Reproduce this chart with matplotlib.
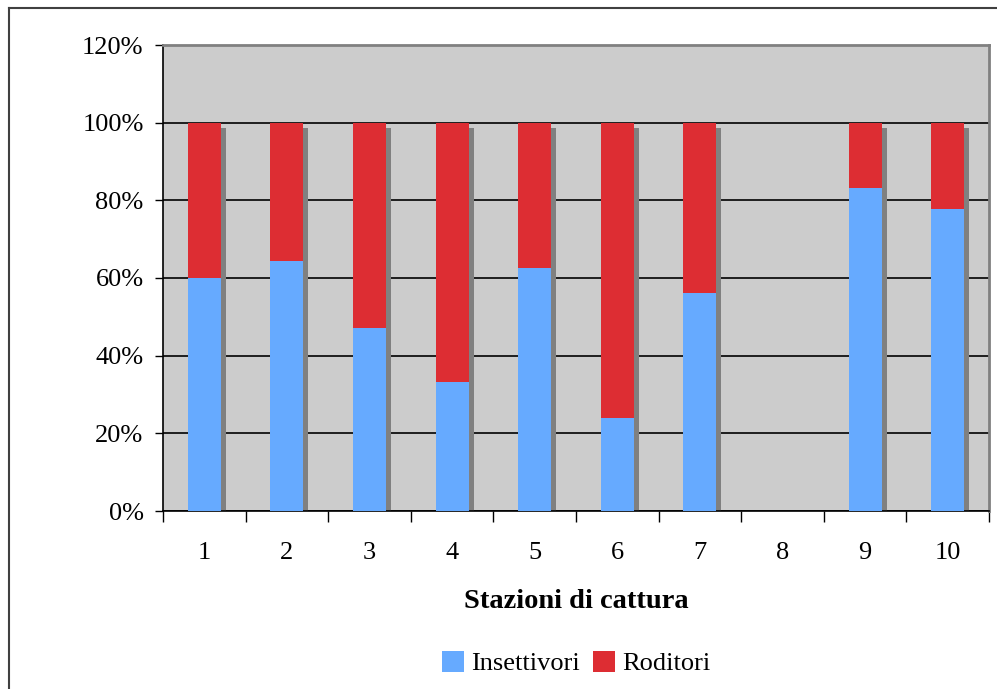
import numpy as np
import matplotlib
matplotlib.use("Agg")
import matplotlib.pyplot as plt
from matplotlib.transforms import ScaledTranslation
from matplotlib.patches import Patch
from matplotlib.lines import Line2D

plt.rcParams["font.family"] = ["Liberation Serif", "DejaVu Serif"]

# ── Dati ─────────────────────────────────────────────────────────────────────
stazioni = ["1", "2", "3", "4", "5", "6", "7", "8", "9", "10"]
insettivori = np.array([60.0, 64.3, 47.1, 33.3, 62.5, 24.0, 56.25, 0.0, 83.3, 77.8])
roditori = np.array([40.0, 35.7, 52.9, 66.7, 37.5, 76.0, 43.75, 0.0, 16.7, 22.2])

col_ins = "#66AAFF"
col_rod = "#DD2D33"

W, H = 997, 689
fig = plt.figure(figsize=(W / 100, H / 100), dpi=100)
ax = fig.add_axes([163 / W, (H - 511) / H, (989 - 163) / W, (511 - 45) / H])
ax.set_facecolor("#CCCCCC")

x = np.arange(len(stazioni))
width = 0.4

# ombra delle colonne (spostata di 5 px a destra e in basso)
shift = ScaledTranslation(5 / 100, -5 / 100, fig.dpi_scale_trans)
totali = insettivori + roditori
ax.bar(x, totali, width, color="#808080", zorder=2,
       transform=ax.transData + shift)

ax.bar(x, insettivori, width, color=col_ins, zorder=3)
ax.bar(x, roditori, width, bottom=insettivori, color=col_rod, zorder=3)

# ── Assi ─────────────────────────────────────────────────────────────────────
ax.set_xlim(-0.5, len(stazioni) - 0.5)
ax.set_ylim(0, 120)
ax.set_yticks(np.arange(0, 121, 20))
ax.set_yticklabels([f"{v}%" for v in range(0, 121, 20)])
ax.yaxis.grid(True, color="black", linewidth=1.2, zorder=1)
ax.set_axisbelow(True)

ax.set_xticks(x)
ax.set_xticklabels(stazioni)
ax.set_xticks(np.arange(-0.5, len(stazioni)), minor=True)
ax.tick_params(axis="x", which="major", length=0, pad=22, labelsize=19)
ax.tick_params(axis="x", which="minor", length=8, width=1, direction="out")
ax.tick_params(axis="y", length=6, width=1, direction="out", pad=8, labelsize=19)

for s in ("left", "bottom"):
    ax.spines[s].set_color("black")
    ax.spines[s].set_linewidth(1.2)
for s in ("top", "right"):
    ax.spines[s].set_color("#808080")
    ax.spines[s].set_linewidth(2)

ax.set_xlabel("Stazioni di cattura", fontsize=20.5, fontweight="bold", labelpad=18)

# ── Legenda ──────────────────────────────────────────────────────────────────
handles = [Patch(facecolor=col_ins, edgecolor="none", label="Insettivori"),
           Patch(facecolor=col_rod, edgecolor="none", label="Roditori")]
fig.legend(handles=handles, loc="center", ncol=2,
           bbox_to_anchor=(576 / W, 1 - 663 / H), frameon=False,
           fontsize=19, handlelength=0.85, handleheight=0.85,
           handletextpad=0.25, columnspacing=0.5)

# cornice esterna
fig.add_artist(Line2D([8.5 / W, 1], [1 - 7.5 / H] * 2, transform=fig.transFigure,
                      color="#404040", linewidth=1.5))
fig.add_artist(Line2D([8.5 / W] * 2, [0, 1 - 7.5 / H], transform=fig.transFigure,
                      color="#404040", linewidth=1.5))

fig.savefig("out.png", dpi=100)
